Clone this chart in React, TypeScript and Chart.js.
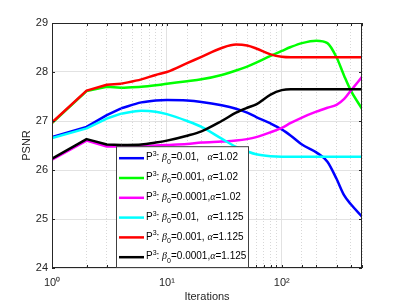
import React, { useEffect, useRef } from 'react';
import { Chart, registerables } from 'chart.js';

Chart.register(...registerables);

// ---- data ----
const iterations = [1, 2, 3, 4, 6, 8, 10, 15, 20, 30, 40, 50, 60, 80, 100, 120, 150, 200, 250, 300, 350, 400, 500];

const blueVals = [26.67, 26.88, 27.12, 27.26, 27.38, 27.42, 27.43, 27.42, 27.39, 27.32, 27.25, 27.17, 27.08, 26.95, 26.83, 26.70, 26.52, 26.36, 26.17, 25.82, 25.48, 25.30, 25.05];
const greenVals = [26.96, 27.61, 27.70, 27.68, 27.70, 27.73, 27.76, 27.81, 27.85, 27.94, 28.03, 28.11, 28.19, 28.33, 28.43, 28.51, 28.59, 28.64, 28.59, 28.30, 27.92, 27.62, 27.25];
const magentaVals = [26.21, 26.60, 26.48, 26.48, 26.49, 26.50, 26.51, 26.53, 26.56, 26.58, 26.60, 26.63, 26.67, 26.77, 26.86, 26.96, 27.07, 27.19, 27.27, 27.33, 27.45, 27.62, 27.90];
const cyanVals = [26.65, 26.85, 27.05, 27.15, 27.21, 27.19, 27.14, 27.00, 26.88, 26.64, 26.47, 26.38, 26.32, 26.28, 26.27, 26.27, 26.27, 26.27, 26.27, 26.27, 26.27, 26.27, 26.27];
const redVals = [26.97, 27.62, 27.74, 27.76, 27.85, 27.94, 28.00, 28.18, 28.31, 28.49, 28.56, 28.54, 28.48, 28.36, 28.31, 28.30, 28.30, 28.30, 28.30, 28.30, 28.30, 28.30, 28.30];
const blackVals = [26.23, 26.63, 26.52, 26.51, 26.52, 26.56, 26.60, 26.70, 26.79, 27.00, 27.17, 27.27, 27.34, 27.54, 27.63, 27.65, 27.65, 27.65, 27.65, 27.65, 27.65, 27.65, 27.65];

const seriesValues = [blueVals, greenVals, magentaVals, cyanVals, redVals, blackVals];
const seriesLabels = [
  'P³: β₀=0.01,   α=1.02',
  'P³: β₀=0.001, α=1.02',
  'P³: β₀=0.0001,α=1.02',
  'P³: β₀=0.01,   α=1.125',
  'P³: β₀=0.001, α=1.125',
  'P³: β₀=0.0001,α=1.125',
];
const seriesColors = ['#0000ff', '#00ff00', '#ff00ff', '#00ffff', '#ff0000', '#000000'];

// first iterations are joined by straight segments, the rest is smooth
const straightCount = 4;

const yMin = 24;
const yMax = 29;
const xMin = 1;
const xMax = 500;
const xMajorLabels: Record<number, string> = { 1: '10⁰', 10: '10¹', 100: '10²' };
const xTitle = 'Iterations';
const yTitle = 'PSNR';

const FONT = '"Liberation Sans", Arial, Helvetica, sans-serif';
const AXIS_COLOR = '#262626';

function isMajor(v: number) {
  return v === 1 || v === 10 || v === 100;
}

function drawRichLabel(ctx: CanvasRenderingContext2D, text: string, x: number, y: number) {
  const base = `10px ${FONT}`;
  const small = `7px ${FONT}`;
  const greek = 'italic 10px "Liberation Serif", "Times New Roman", serif';
  let cx = x;
  let buf = '';
  const flush = () => {
    if (buf) {
      ctx.font = base;
      ctx.fillText(buf, cx, y);
      cx += ctx.measureText(buf).width;
      buf = '';
    }
  };
  for (const ch of text) {
    if (ch === '³') {
      flush();
      ctx.font = small;
      ctx.fillText('3', cx, y - 3.5);
      cx += ctx.measureText('3').width;
    } else if (ch === '₀') {
      flush();
      ctx.font = small;
      ctx.fillText('0', cx, y + 4);
      cx += ctx.measureText('0').width;
    } else if (ch === 'β' || ch === 'α') {
      flush();
      ctx.font = greek;
      ctx.fillText(ch, cx, y);
      cx += ctx.measureText(ch).width;
    } else {
      buf += ch;
    }
  }
  flush();
}

const framePlugin = {
  id: 'matlabFrame',
  afterDatasetsDraw(chart: any) {
    const { ctx, chartArea } = chart;
    const { left, right, top, bottom } = chartArea;
    ctx.save();
    ctx.strokeStyle = AXIS_COLOR;
    ctx.lineWidth = 1;
    ctx.strokeRect(Math.round(left) + 0.5, Math.round(top) + 0.5, Math.round(right - left) - 1, Math.round(bottom - top) - 1);
    const xs = chart.scales.x;
    ctx.beginPath();
    for (const t of xs.ticks) {
      const px = Math.round(xs.getPixelForValue(t.value)) + 0.5;
      const len = 3;
      ctx.moveTo(px, bottom);
      ctx.lineTo(px, bottom - len);
      ctx.moveTo(px, top);
      ctx.lineTo(px, top + len);
    }
    const ys = chart.scales.y;
    for (const t of ys.ticks) {
      const py = Math.round(ys.getPixelForValue(t.value)) + 0.5;
      ctx.moveTo(left, py);
      ctx.lineTo(left + 3, py);
      ctx.moveTo(right, py);
      ctx.lineTo(right - 3, py);
    }
    ctx.stroke();
    ctx.restore();
  },
};

const legendPlugin = {
  id: 'insideLegend',
  afterDraw(chart: any) {
    const { ctx, chartArea } = chart;
    const entries = chart.data.datasets.filter((ds: any) => ds.label);
    const x0 = Math.round(chartArea.left) + 64.5;
    const bottom = Math.round(chartArea.bottom) - 0.5;
    const w = 132;
    const rowH = 19.8;
    const h = entries.length * rowH + 2;
    const y0 = bottom - h;
    ctx.save();
    ctx.fillStyle = '#ffffff';
    ctx.fillRect(x0, y0, w, h);
    ctx.strokeStyle = '#404040';
    ctx.lineWidth = 1;
    ctx.strokeRect(x0, y0, w, h);
    ctx.textBaseline = 'middle';
    ctx.textAlign = 'left';
    entries.forEach((ds: any, i: number) => {
      const cy = y0 + 11.5 + i * rowH;
      ctx.strokeStyle = ds.borderColor;
      ctx.lineWidth = 2.5;
      ctx.beginPath();
      ctx.moveTo(x0 + 2.5, cy);
      ctx.lineTo(x0 + 27.5, cy);
      ctx.stroke();
      ctx.fillStyle = '#000000';
      drawRichLabel(ctx, ds.label, x0 + 29.5, cy - 0.5);
    });
    ctx.restore();
  },
};

export default function App() {
  const canvasRef = useRef<HTMLCanvasElement | null>(null);

  useEffect(() => {
    document.body.style.margin = '0';
    const canvas = canvasRef.current;
    if (!canvas) return;
    const n = seriesValues.length;
    const datasets: any[] = [];
    seriesValues.forEach((vals, i) => {
      const pts = iterations.map((x, j) => ({ x, y: vals[j] }));
      datasets.push({
        label: seriesLabels[i],
        data: pts.slice(straightCount - 1),
        borderColor: seriesColors[i],
        backgroundColor: seriesColors[i],
        borderWidth: 2.5,
        pointRadius: 0,
        fill: false,
        cubicInterpolationMode: 'monotone',
        order: 2 * (n - i),
      });
      datasets.push({
        label: '',
        data: pts.slice(0, straightCount),
        borderColor: seriesColors[i],
        backgroundColor: seriesColors[i],
        borderWidth: 2.5,
        pointRadius: 0,
        fill: false,
        tension: 0,
        borderJoinStyle: 'round',
        order: 2 * (n - i) - 1,
      });
    });

    const chart = new Chart(canvas, {
      type: 'line',
      data: { datasets },
      options: {
        animation: false,
        responsive: false,
        maintainAspectRatio: false,
        devicePixelRatio: 1,
        layout: { padding: { top: 23, right: 37, left: 0, bottom: 0 } },
        plugins: {
          legend: { display: false },
          tooltip: { enabled: false },
        },
        scales: {
          x: {
            type: 'logarithmic',
            min: xMin,
            max: xMax,
            afterFit: (s: any) => {
              s.height = 38;
            },
            border: {
              display: false,
              dash: (c: any) => (c.tick && isMajor(c.tick.value) ? [] : [1, 2]),
            },
            grid: {
              drawTicks: false,
              color: (c: any) => (c.tick && isMajor(c.tick.value) ? '#e2e2e2' : '#d8d8d8'),
              lineWidth: 1,
            },
            ticks: {
              autoSkip: false,
              maxRotation: 0,
              padding: 8,
              color: AXIS_COLOR,
              font: { family: FONT, size: 11 },
              callback: (v: any) => xMajorLabels[Number(v)] ?? '',
            },
            title: {
              display: true,
              text: xTitle,
              color: AXIS_COLOR,
              font: { family: FONT, size: 11 },
              padding: { top: 0, bottom: 2 },
            },
          },
          y: {
            type: 'linear',
            min: yMin,
            max: yMax,
            afterFit: (s: any) => {
              s.width = 52;
            },
            border: { display: false },
            grid: {
              drawTicks: false,
              color: '#e2e2e2',
              lineWidth: 1,
            },
            ticks: {
              stepSize: 1,
              padding: 4,
              color: AXIS_COLOR,
              font: { family: FONT, size: 11 },
            },
            title: {
              display: true,
              text: yTitle,
              color: AXIS_COLOR,
              font: { family: FONT, size: 11 },
              padding: { top: 20, bottom: 0 },
            },
          },
        },
      },
      plugins: [framePlugin, legendPlugin],
    });
    return () => chart.destroy();
  }, []);

  return (
    <div style={{ position: 'absolute', left: 0, top: 0, width: 399, height: 306, background: '#ffffff' }}>
      <canvas ref={canvasRef} width={399} height={306} />
    </div>
  );
}
